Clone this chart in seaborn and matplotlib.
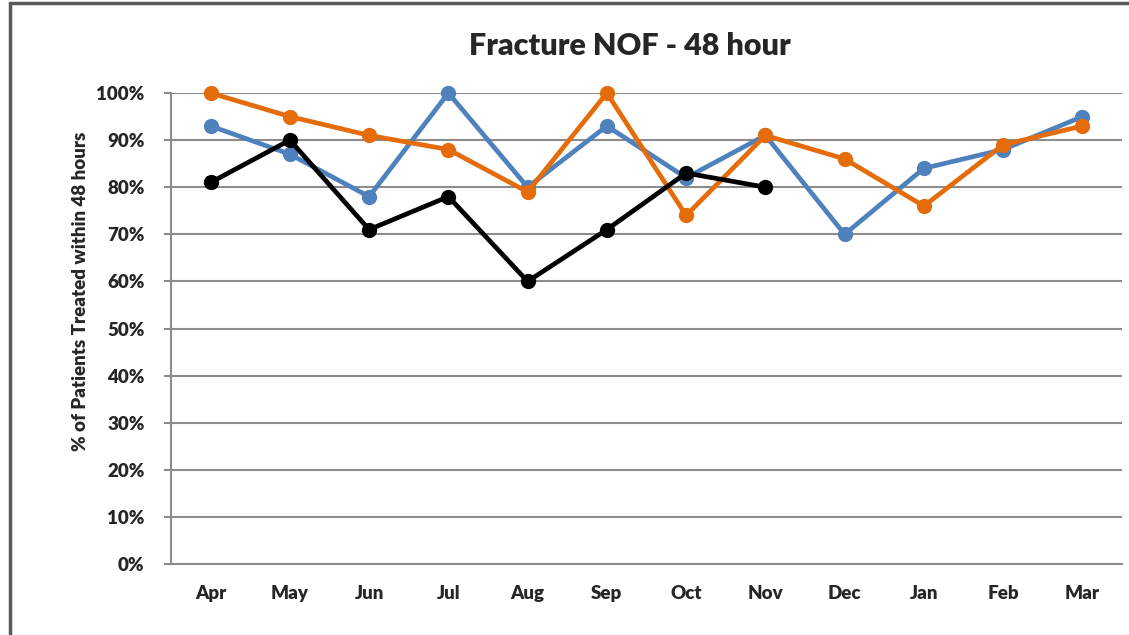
import matplotlib
matplotlib.use("Agg")
import matplotlib.pyplot as plt
import seaborn as sns
import pandas as pd
from matplotlib.patches import Rectangle

months = ["Apr", "May", "Jun", "Jul", "Aug", "Sep", "Oct", "Nov", "Dec", "Jan", "Feb", "Mar"]
series_a = [93, 87, 78, 100, 80, 93, 82, 91, 70, 84, 88, 95]          # blue
series_b = [100, 95, 91, 88, 79, 100, 74, 91, 86, 76, 89, 93]         # orange
series_c = [81, 90, 71, 78, 60, 71, 83, 80]                           # black (partial year)
names = ["Series A", "Series B", "Series C"]
colors = ["#4F81BD", "#E46C0A", "#000000"]

rows = []
for name, vals in zip(names, [series_a, series_b, series_c]):
    for i, v in enumerate(vals):
        rows.append({"month": months[i], "pos": i, "value": v, "series": name})
df = pd.DataFrame(rows)

sns.set_theme(style="white")
plt.rcParams["font.family"] = ["Lato", "DejaVu Sans"]

fig = plt.figure(figsize=(11.29, 6.35), dpi=100)
ax = fig.add_axes([171/1129, 1-564/635, (1122-171)/1129, (564-93)/635])

sns.lineplot(data=df, x="pos", y="value", hue="series", palette=colors,
             hue_order=names, marker="o", markersize=11, markeredgewidth=0,
             linewidth=3.4, ax=ax, legend=False, sort=False, clip_on=False)
for line in ax.lines:
    line.set_clip_on(False)
    line.set_zorder(5)

ax.set_xlim(-0.5, len(months) - 0.5)
ax.set_ylim(0, 100)
ax.set_yticks(range(0, 101, 10))
ax.set_yticklabels([f"{v}%" for v in range(0, 101, 10)], fontsize=13.5, fontweight="heavy")
ax.set_xticks(range(len(months)))
ax.set_xticklabels(months, fontsize=13.5, fontweight="heavy")
ax.yaxis.grid(True, color="#8C8C8C", linewidth=1.5)
ax.set_axisbelow(True)
ax.tick_params(axis="y", which="both", left=True, length=5, width=1.5, color="#8C8C8C", pad=14)
ax.tick_params(axis="x", length=0, pad=15)
for s in ["top", "right"]:
    ax.spines[s].set_visible(False)
for s in ["left", "bottom"]:
    ax.spines[s].set_color("#8C8C8C")
    ax.spines[s].set_linewidth(1.5)

ax.set_xlabel("")
ax.set_ylabel("% of Patients Treated within 48 hours", fontsize=13.5, fontweight="heavy")
ax.yaxis.set_label_coords(-0.086, 0.58)

fig.text(630/1129, 1-46/635, "Fracture NOF - 48 hour", ha="center", va="center",
         fontsize=22, fontweight="heavy")

fig.patches.append(Rectangle((10/1129, -0.1), 1.2, 1-3/635 + 0.1, transform=fig.transFigure,
                             fill=False, edgecolor="#595959", linewidth=2.5, zorder=10))

fig.savefig("out.png", dpi=100)
